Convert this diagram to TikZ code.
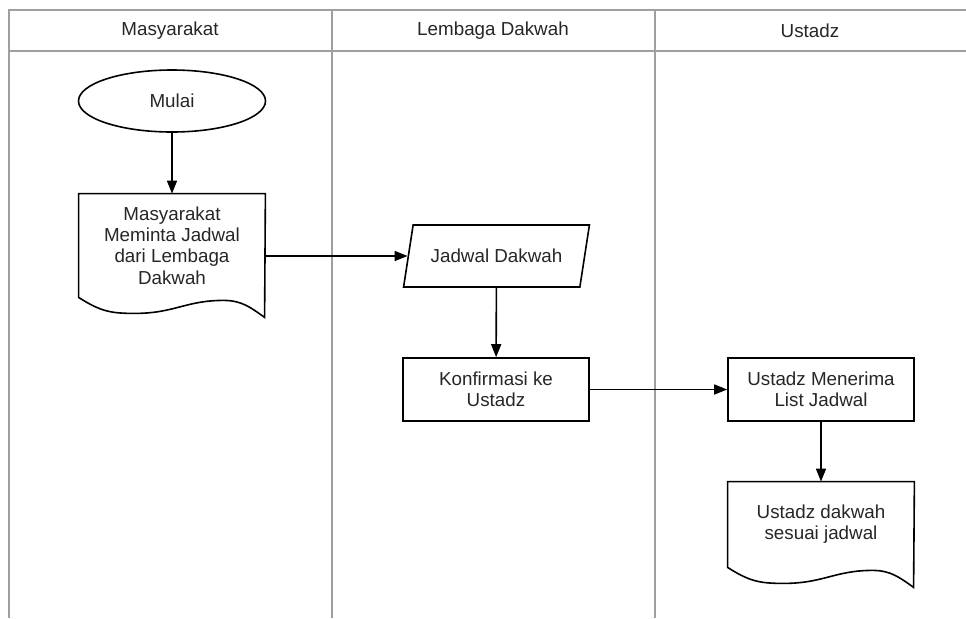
\documentclass[tikz,border=0pt]{standalone}
\usepackage{fontspec}
\setmainfont{Liberation Sans}
\usetikzlibrary{shapes.geometric, positioning, arrows.meta}
\tikzset{
  startstop/.style={ellipse, minimum width=93.5pt, minimum height=31pt, text centered, draw=black, line width=0.8pt},
  process/.style={rectangle, minimum width=93pt, minimum height=31.5pt, align=center, draw=black, line width=0.8pt},
  io/.style={trapezium, trapezium left angle=73, trapezium right angle=107, trapezium stretches=true, minimum width=93.5pt, minimum height=31pt, align=center, draw=black, line width=0.8pt},
  docbox/.style={rectangle, minimum width=93pt, align=center, inner sep=0pt},
  lane/.style={gray!75, line width=1pt},
  arrow/.style={line width=0.8pt, -{Triangle[length=6.5pt, width=5pt]}}
}
% dokumen dengan sisi bawah bergelombang
\newcommand{\docwave}[1]{
    \draw[line width=0.8pt] (#1.north east) -- (#1.north west) -- (#1.south west)
        .. controls +(22,14) and +(-24,0) .. ++(56,16)
        .. controls +(40,0) and +(-38,0) .. ++(89,-13)
        .. controls +(18,0) and +(-14,-10) .. ++(41,17)
        -- cycle;
}

\begin{document}
\begin{tikzpicture}[x=0.5pt, y=-0.5pt, every node/.style={font=\fontsize{9.4}{10.6}\selectfont, text=black!85}]
    \useasboundingbox (0,0) rectangle (966,618);

    % Swimlane
    \draw[lane] (966,10) -- (9,10) -- (9,618);
    \draw[lane] (9,51) -- (966,51);
    \draw[lane] (332,10) -- (332,618);
    \draw[lane] (655,10) -- (655,618);
    \node (hmasy) at (170,31) {Masyarakat};
    \node (hlemb) at (493,31) {Lembaga Dakwah};
    \node (hust) at (810,31) {Ustadz};

    % Masyarakat
    \node[startstop] (mulai) at (172,101) {Mulai};
    \node[docbox, minimum height=51.5pt] (minta) at (172,245.5) {Masyarakat\\Meminta Jadwal\\dari Lembaga\\Dakwah};
    \docwave{minta}

    % Lembaga Dakwah
    \node[io] (jadwal) at (496.5,256) {Jadwal Dakwah};
    \node[process] (konf) at (496,389.5) {Konfirmasi ke\\Ustadz};

    % Ustadz
    \node[process] (terima) at (821,389.5) {Ustadz Menerima\\List Jadwal};
    \node[docbox, minimum height=42.5pt] (dakwah) at (821,524.5) {Ustadz dakwah\\sesuai jadwal};
    \docwave{dakwah}

    % Alur
    \draw[arrow] (mulai) -- (minta);
    \draw[arrow] (minta.east |- jadwal) -- (jadwal);
    \draw[arrow] (jadwal) -- (konf);
    \draw[arrow] (konf) -- (terima);
    \draw[arrow] (terima) -- (dakwah);
\end{tikzpicture}
\end{document}
